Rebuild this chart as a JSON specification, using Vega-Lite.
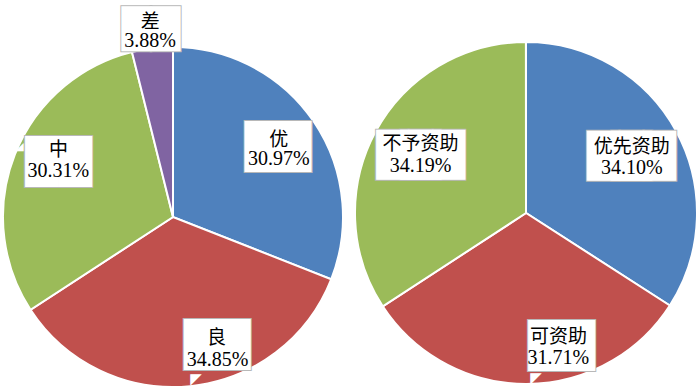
{
  "$schema": "https://vega.github.io/schema/vega-lite/v6.json",
  "width": 700,
  "height": 390,
  "autosize": {"type": "none"},
  "padding": 0,
  "background": "white",
  "config": {"view": {"stroke": null}},
  "encoding": {
    "x": {"field": "chart", "type": "nominal", "axis": null, "scale": {"type": "point", "domain": ["L", "R"]}}
  },
  "layer": [
    {
      "data": {"values": [
        {"chart": "L", "cat": "优", "p": 0.3097, "k": 1},
        {"chart": "L", "cat": "良", "p": 0.3485, "k": 2},
        {"chart": "L", "cat": "中", "p": 0.3031, "k": 3},
        {"chart": "L", "cat": "差", "p": 0.0388, "k": 4}
      ]},
      "encoding": {
        "theta": {"field": "p", "type": "quantitative", "stack": true},
        "order": {"field": "k", "type": "quantitative"},
        "detail": {"field": "cat", "type": "nominal"}
      },
      "layer": [
        {"mark": {"type": "arc", "outerRadius": 170, "xOffset": -2, "yOffset": 22, "stroke": "white", "strokeWidth": 2},
         "encoding": {"color": {"field": "cat", "type": "nominal", "legend": null,
           "scale": {"domain": ["优", "良", "中", "差", "优先资助", "可资助", "不予资助"], "range": ["#4F81BD", "#C0504D", "#9BBB59", "#8064A2", "#4F81BD", "#C0504D", "#9BBB59"]}}}},

        {"mark": {"type": "text", "font": "DejaVu Sans", "fontSize": 43, "radius": 128, "dx": -3, "dy": 25, "fill": "#ffffff", "stroke": "#b8b8b8", "strokeWidth": 2, "baseline": "middle", "align": "center"},
         "encoding": {"text": {"condition": {"test": "datum.cat === '优'", "value": "██"}, "value": ""}}},
        {"mark": {"type": "text", "font": "DejaVu Sans", "fontSize": 43, "radius": 128, "dx": -3, "dy": 25, "fill": "#ffffff", "baseline": "middle", "align": "center"},
         "encoding": {"text": {"condition": {"test": "datum.cat === '优'", "value": "██"}, "value": ""}}},
        {"mark": {"type": "text", "radius": 128, "dx": -2, "dy": 17, "font": "Noto Sans CJK SC", "fontSize": 19, "color": "black", "baseline": "middle"},
         "encoding": {"text": {"condition": {"test": "datum.cat === '优'", "field": "cat"}, "value": ""}}},
        {"mark": {"type": "text", "radius": 128, "dx": -2, "dy": 36, "font": "Liberation Serif", "fontSize": 20, "color": "black", "baseline": "middle"},
         "encoding": {"text": {"condition": {"test": "datum.cat === '优'", "field": "p", "type": "quantitative", "format": ".2%"}, "value": ""}}},

        {"mark": {"type": "text", "font": "DejaVu Sans", "fontSize": 43, "radius": 134, "dx": 28.5, "dy": 17.6, "fill": "#ffffff", "stroke": "#b8b8b8", "strokeWidth": 2, "baseline": "middle", "align": "center"},
         "encoding": {"text": {"condition": {"test": "datum.cat === '良'", "value": "██"}, "value": ""}}},
        {"mark": {"type": "text", "font": "DejaVu Sans", "fontSize": 15, "radius": 134, "dx": 7.5, "dy": 50.4, "fill": "#ffffff", "baseline": "middle", "align": "center"},
         "encoding": {"text": {"condition": {"test": "datum.cat === '良'", "value": "◤"}, "value": ""}}},
        {"mark": {"type": "text", "font": "DejaVu Sans", "fontSize": 43, "radius": 134, "dx": 28.5, "dy": 17.6, "fill": "#ffffff", "baseline": "middle", "align": "center"},
         "encoding": {"text": {"condition": {"test": "datum.cat === '良'", "value": "██"}, "value": ""}}},
        {"mark": {"type": "text", "radius": 134, "dx": 28, "dy": 9.5, "font": "Noto Sans CJK SC", "fontSize": 19, "color": "black", "baseline": "middle"},
         "encoding": {"text": {"condition": {"test": "datum.cat === '良'", "field": "cat"}, "value": ""}}},
        {"mark": {"type": "text", "radius": 134, "dx": 29, "dy": 31.5, "font": "Liberation Serif", "fontSize": 20, "color": "black", "baseline": "middle"},
         "encoding": {"text": {"condition": {"test": "datum.cat === '良'", "field": "p", "type": "quantitative", "format": ".2%"}, "value": ""}}},

        {"mark": {"type": "text", "font": "DejaVu Sans", "fontSize": 43, "radius": 128, "dx": 2.5, "dy": 14.4, "fill": "#ffffff", "stroke": "#b8b8b8", "strokeWidth": 2, "baseline": "middle", "align": "center"},
         "encoding": {"text": {"condition": {"test": "datum.cat === '中'", "value": "██"}, "value": ""}}},
        {"mark": {"type": "text", "font": "DejaVu Sans", "fontSize": 11, "radius": 128, "dx": -36.4, "dy": -0.7, "fill": "#ffffff", "baseline": "middle", "align": "center"},
         "encoding": {"text": {"condition": {"test": "datum.cat === '中'", "value": "◢"}, "value": ""}}},
        {"mark": {"type": "text", "font": "DejaVu Sans", "fontSize": 43, "radius": 128, "dx": 2.5, "dy": 14.4, "fill": "#ffffff", "baseline": "middle", "align": "center"},
         "encoding": {"text": {"condition": {"test": "datum.cat === '中'", "value": "██"}, "value": ""}}},
        {"mark": {"type": "text", "radius": 128, "dx": 2.5, "dy": 2, "font": "Noto Sans CJK SC", "fontSize": 19, "color": "black", "baseline": "middle"},
         "encoding": {"text": {"condition": {"test": "datum.cat === '中'", "field": "cat"}, "value": ""}}},
        {"mark": {"type": "text", "radius": 128, "dx": 2.5, "dy": 23, "font": "Liberation Serif", "fontSize": 20, "color": "black", "baseline": "middle"},
         "encoding": {"text": {"condition": {"test": "datum.cat === '中'", "field": "p", "type": "quantitative", "format": ".2%"}, "value": ""}}},

        {"mark": {"type": "text", "font": "DejaVu Sans", "fontSize": 38, "radius": 188, "dx": -1.5, "dy": 23, "fill": "#ffffff", "stroke": "#b8b8b8", "strokeWidth": 2, "baseline": "middle", "align": "center"},
         "encoding": {"text": {"condition": {"test": "datum.cat === '差'", "value": "██"}, "value": ""}}},
        {"mark": {"type": "text", "font": "DejaVu Sans", "fontSize": 38, "radius": 188, "dx": -1.5, "dy": 23, "fill": "#ffffff", "baseline": "middle", "align": "center"},
         "encoding": {"text": {"condition": {"test": "datum.cat === '差'", "value": "██"}, "value": ""}}},
        {"mark": {"type": "text", "radius": 188, "dx": -2, "dy": 14, "font": "Noto Sans CJK SC", "fontSize": 19, "color": "black", "baseline": "middle"},
         "encoding": {"text": {"condition": {"test": "datum.cat === '差'", "field": "cat"}, "value": ""}}},
        {"mark": {"type": "text", "radius": 188, "dx": -2, "dy": 33, "font": "Liberation Serif", "fontSize": 20, "color": "black", "baseline": "middle"},
         "encoding": {"text": {"condition": {"test": "datum.cat === '差'", "field": "p", "type": "quantitative", "format": ".2%"}, "value": ""}}}
      ]
    },
    {
      "data": {"values": [
        {"chart": "R", "cat": "优先资助", "p": 0.3410, "k": 1},
        {"chart": "R", "cat": "可资助", "p": 0.3171, "k": 2},
        {"chart": "R", "cat": "不予资助", "p": 0.3419, "k": 3}
      ]},
      "encoding": {
        "theta": {"field": "p", "type": "quantitative", "stack": true},
        "order": {"field": "k", "type": "quantitative"},
        "detail": {"field": "cat", "type": "nominal"}
      },
      "layer": [
        {"mark": {"type": "arc", "outerRadius": 171, "xOffset": 1, "yOffset": 18, "stroke": "white", "strokeWidth": 2},
         "encoding": {"color": {"field": "cat", "type": "nominal", "legend": null,
           "scale": {"domain": ["优", "良", "中", "差", "优先资助", "可资助", "不予资助"], "range": ["#4F81BD", "#C0504D", "#9BBB59", "#8064A2", "#4F81BD", "#C0504D", "#9BBB59"]}}}},

        {"mark": {"type": "text", "font": "DejaVu Sans", "fontSize": 42, "radius": 121, "dx": -11.9, "dy": 20.1, "fill": "#ffffff", "stroke": "#b8b8b8", "strokeWidth": 2, "baseline": "middle", "align": "center"},
         "encoding": {"text": {"condition": {"test": "datum.cat === '优先资助'", "value": "██"}, "value": ""}}},
        {"mark": {"type": "text", "font": "DejaVu Sans", "fontSize": 42, "radius": 121, "dx": 12.1, "dy": 20.1, "fill": "#ffffff", "stroke": "#b8b8b8", "strokeWidth": 2, "baseline": "middle", "align": "center"},
         "encoding": {"text": {"condition": {"test": "datum.cat === '优先资助'", "value": "██"}, "value": ""}}},
        {"mark": {"type": "text", "font": "DejaVu Sans", "fontSize": 42, "radius": 121, "dx": -11.9, "dy": 20.1, "fill": "#ffffff", "baseline": "middle", "align": "center"},
         "encoding": {"text": {"condition": {"test": "datum.cat === '优先资助'", "value": "██"}, "value": ""}}},
        {"mark": {"type": "text", "font": "DejaVu Sans", "fontSize": 42, "radius": 121, "dx": 12.1, "dy": 20.1, "fill": "#ffffff", "baseline": "middle", "align": "center"},
         "encoding": {"text": {"condition": {"test": "datum.cat === '优先资助'", "value": "██"}, "value": ""}}},
        {"mark": {"type": "text", "radius": 121, "dx": 0.5, "dy": 10, "font": "Noto Sans CJK SC", "fontSize": 19, "color": "black", "baseline": "middle"},
         "encoding": {"text": {"condition": {"test": "datum.cat === '优先资助'", "field": "cat"}, "value": ""}}},
        {"mark": {"type": "text", "radius": 121, "dx": 0.5, "dy": 31, "font": "Liberation Serif", "fontSize": 20, "color": "black", "baseline": "middle"},
         "encoding": {"text": {"condition": {"test": "datum.cat === '优先资助'", "field": "p", "type": "quantitative", "format": ".2%"}, "value": ""}}},

        {"mark": {"type": "text", "font": "DejaVu Sans", "fontSize": 43, "radius": 131, "dx": 36, "dy": 21.4, "fill": "#ffffff", "stroke": "#b8b8b8", "strokeWidth": 2, "baseline": "middle", "align": "center"},
         "encoding": {"text": {"condition": {"test": "datum.cat === '可资助'", "value": "██"}, "value": ""}}},
        {"mark": {"type": "text", "font": "DejaVu Sans", "fontSize": 15, "radius": 131, "dx": 10.6, "dy": 51.7, "fill": "#ffffff", "baseline": "middle", "align": "center"},
         "encoding": {"text": {"condition": {"test": "datum.cat === '可资助'", "value": "◤"}, "value": ""}}},
        {"mark": {"type": "text", "font": "DejaVu Sans", "fontSize": 43, "radius": 131, "dx": 36, "dy": 21.4, "fill": "#ffffff", "baseline": "middle", "align": "center"},
         "encoding": {"text": {"condition": {"test": "datum.cat === '可资助'", "value": "██"}, "value": ""}}},
        {"mark": {"type": "text", "radius": 131, "dx": 33, "dy": 11, "font": "Noto Sans CJK SC", "fontSize": 19, "color": "black", "baseline": "middle"},
         "encoding": {"text": {"condition": {"test": "datum.cat === '可资助'", "field": "cat"}, "value": ""}}},
        {"mark": {"type": "text", "radius": 131, "dx": 33, "dy": 32, "font": "Liberation Serif", "fontSize": 20, "color": "black", "baseline": "middle"},
         "encoding": {"text": {"condition": {"test": "datum.cat === '可资助'", "field": "p", "type": "quantitative", "format": ".2%"}, "value": ""}}},

        {"mark": {"type": "text", "font": "DejaVu Sans", "fontSize": 42, "radius": 121, "dx": -10, "dy": 18.6, "fill": "#ffffff", "stroke": "#b8b8b8", "strokeWidth": 2, "baseline": "middle", "align": "center"},
         "encoding": {"text": {"condition": {"test": "datum.cat === '不予资助'", "value": "██"}, "value": ""}}},
        {"mark": {"type": "text", "font": "DejaVu Sans", "fontSize": 42, "radius": 121, "dx": 14, "dy": 18.6, "fill": "#ffffff", "stroke": "#b8b8b8", "strokeWidth": 2, "baseline": "middle", "align": "center"},
         "encoding": {"text": {"condition": {"test": "datum.cat === '不予资助'", "value": "██"}, "value": ""}}},
        {"mark": {"type": "text", "font": "DejaVu Sans", "fontSize": 42, "radius": 121, "dx": -10, "dy": 18.6, "fill": "#ffffff", "baseline": "middle", "align": "center"},
         "encoding": {"text": {"condition": {"test": "datum.cat === '不予资助'", "value": "██"}, "value": ""}}},
        {"mark": {"type": "text", "font": "DejaVu Sans", "fontSize": 42, "radius": 121, "dx": 14, "dy": 18.6, "fill": "#ffffff", "baseline": "middle", "align": "center"},
         "encoding": {"text": {"condition": {"test": "datum.cat === '不予资助'", "value": "██"}, "value": ""}}},
        {"mark": {"type": "text", "radius": 121, "dx": 2, "dy": 7, "font": "Noto Sans CJK SC", "fontSize": 19, "color": "black", "baseline": "middle"},
         "encoding": {"text": {"condition": {"test": "datum.cat === '不予资助'", "field": "cat"}, "value": ""}}},
        {"mark": {"type": "text", "radius": 121, "dx": 2, "dy": 29, "font": "Liberation Serif", "fontSize": 20, "color": "black", "baseline": "middle"},
         "encoding": {"text": {"condition": {"test": "datum.cat === '不予资助'", "field": "p", "type": "quantitative", "format": ".2%"}, "value": ""}}}
      ]
    }
  ]
}
